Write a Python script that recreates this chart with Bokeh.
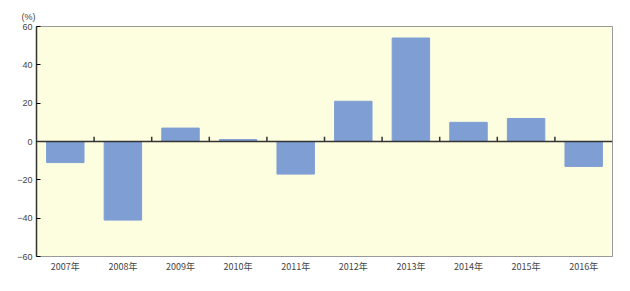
from bokeh.plotting import figure
from bokeh.models import FixedTicker, Range1d, Span
from bokeh.embed import file_html
from bokeh.resources import INLINE

years = ["2007年", "2008年", "2009年", "2010年", "2011年", "2012年", "2013年", "2014年", "2015年", "2016年"]
values = [-11, -41, 7, 1, -17, 21, 54, 10, 12, -13]
y_ticks = [-60, -40, -20, 0, 20, 40, 60]

xs = list(range(len(years)))
boundaries = [i + 0.5 for i in xs[:-1]]

p = figure(width=614, height=275, output_backend="svg", toolbar_location=None,
           x_range=Range1d(-0.5, len(years) - 0.5), y_range=Range1d(-60, 60),
           min_border_left=36, min_border_top=26, min_border_right=2, min_border_bottom=0,
           title="(%)")
p.border_fill_color = "white"
p.background_fill_color = "#fdfde0"
p.outline_line_color = "#999999"
p.grid.visible = False

p.title.align = "left"
p.title.offset = -15
p.title.text_font = "Liberation Sans"
p.title.text_font_size = "9px"
p.title.text_font_style = "normal"
p.title.text_color = "#444444"
p.title.standoff = 10

p.vbar(x=xs, top=values, width=0.65, bottom=0, fill_color="#7f9fd4", line_color="#7f9fd4")

# zero line with category boundary ticks
p.add_layout(Span(location=0, dimension="width", line_color="#333333", line_width=1.5))
p.segment(x0=boundaries, x1=boundaries, y0=[0]*len(boundaries), y1=[2.5]*len(boundaries),
          line_color="#333333", line_width=1.5)

p.yaxis.ticker = FixedTicker(ticks=y_ticks)
p.yaxis.major_tick_in = 4
p.yaxis.major_tick_out = 0
p.yaxis.minor_tick_line_color = None
p.yaxis.axis_line_color = "#333333"
p.yaxis.axis_line_width = 1.5
p.yaxis.major_label_text_font = "Liberation Sans"
p.yaxis.major_label_text_font_size = "9px"
p.yaxis.major_label_text_color = "#444444"
p.yaxis.major_label_standoff = 4

p.xaxis.ticker = FixedTicker(ticks=xs)
p.xaxis.major_label_overrides = {i: y for i, y in enumerate(years)}
p.xaxis.major_tick_line_color = None
p.xaxis.major_tick_in = 0
p.xaxis.major_tick_out = 0
p.xaxis.minor_tick_line_color = None
p.xaxis.axis_line_color = "#999999"
p.xaxis.major_label_text_font = "Noto Sans CJK JP"
p.xaxis.major_label_text_font_size = "9px"
p.xaxis.major_label_text_color = "#444444"
p.xaxis.major_label_standoff = 3

open("out.html", "w").write(file_html(p, INLINE))
